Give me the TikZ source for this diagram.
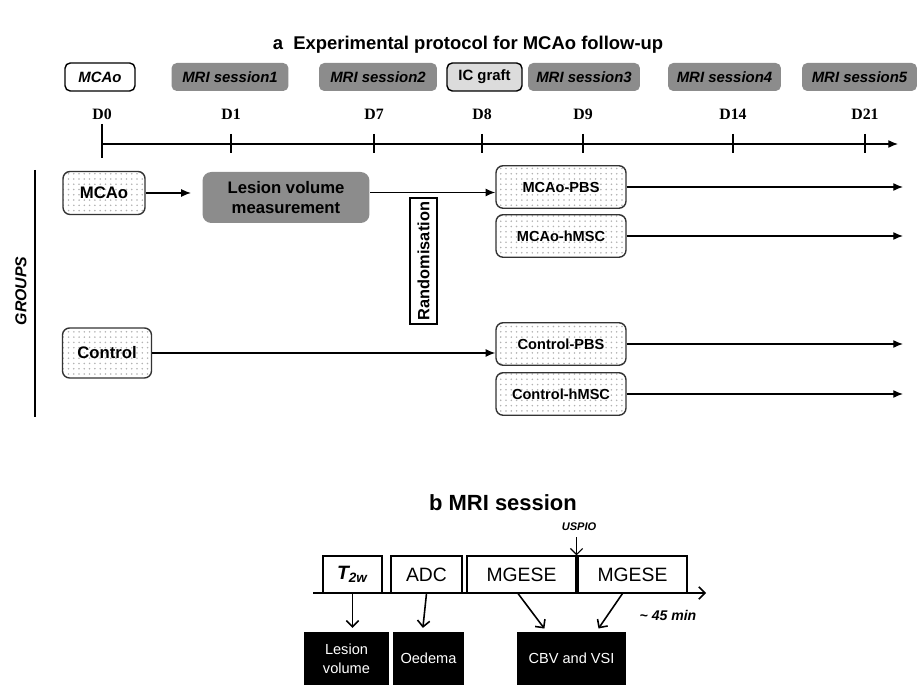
\documentclass[tikz,border=0pt]{standalone}
\usepackage{fontspec}
\setmainfont{Liberation Sans}
\newfontfamily\dayfont{Liberation Serif}
\usetikzlibrary{positioning,shapes,arrows,arrows.meta,patterns}
\definecolor{sessgray}{RGB}{140,140,140}
\definecolor{graftgray}{RGB}{220,220,220}
\begin{document}
\begin{tikzpicture}[
  x=0.02cm, y=-0.02cm,
  line width=0.7pt,
  tip/.style={-{Latex[length=5.5pt,width=4.5pt]}},
  barb/.style={-{Straight Barb[length=3.5pt,width=7pt]},line width=0.9pt},
  daybox/.style={rounded corners=3pt,inner sep=0pt,minimum height=0.56cm,
    font=\fontsize{8.5}{10}\selectfont\bfseries\itshape},
  mrinode/.style={daybox,fill=sessgray},
  grpbox/.style={draw=black!80,line width=0.8pt,rounded corners=4pt,inner sep=0pt,
    pattern=dots,pattern color=gray!60,align=center,
    font=\fontsize{9.5}{11}\selectfont\bfseries},
  armbox/.style={grpbox,minimum width=2.6cm,minimum height=0.85cm,
    font=\fontsize{8.3}{10}\selectfont\bfseries},
  seqbox/.style={draw,line width=0.6pt,inner sep=0pt,minimum height=0.74cm,
    font=\fontsize{11}{13}\selectfont},
  resbox/.style={fill=black,text=white,inner sep=0pt,minimum height=1.06cm,align=center,
    font=\fontsize{8.3}{11}\selectfont},
  font=\small
]
\useasboundingbox (0,0) rectangle (917,685);

% a: timeline
\node[font=\fontsize{10.5}{12}\selectfont\bfseries] (titlea) at (468,45) {a\ \ Experimental protocol for MCAo follow-up};
\node[daybox,draw,line width=0.8pt,fill=white,minimum width=1.4cm] (topmcao) at (100,77) {MCAo};
\node[mrinode,minimum width=2.34cm] (mri1) at (230,77) {MRI session1};
\node[mrinode,minimum width=2.36cm] (mri2) at (378,77) {MRI session2};
\node[daybox,draw,line width=0.8pt,fill=graftgray,minimum width=1.5cm,font=\fontsize{8.5}{10}\selectfont\bfseries] (graft) at (484.5,77) {IC graft};
\node[mrinode,minimum width=2.24cm] (mri3) at (584,77) {MRI session3};
\node[mrinode,minimum width=2.26cm] (mri4) at (724.5,77) {MRI session4};
\node[mrinode,minimum width=2.3cm] (mri5) at (859.5,77) {MRI session5};

\coordinate (tstart) at (102,144);
\coordinate (tend) at (898,144);
\draw[tip] (tstart) -- (tend);
\draw (102,124) -- (102,158);
\foreach \d/\x in {D0/102,D1/231,D7/374,D8/482,D9/583,D14/733,D21/865}{
  \node[font=\dayfont\fontsize{9}{10}\selectfont\bfseries] (day\d) at (\x,114) {\d};
}
\foreach \x in {231,374,482,583,733,865}{
  \draw (\x,134) -- (\x,153);
}

% a: groups
\draw[line width=1.3pt] (35,170) -- (35,417);
\node[rotate=90,font=\fontsize{9}{10}\selectfont\bfseries\itshape] (groups) at (21,291) {GROUPS};

\node[grpbox,minimum width=1.64cm,minimum height=0.86cm] (gmcao) at (104,193) {MCAo};
\node[fill=sessgray,rounded corners=5pt,minimum width=3.34cm,minimum height=1.02cm,inner sep=0pt,
  align=center,font=\fontsize{9.5}{11}\selectfont\bfseries] (lesion) at (286,197.5) {Lesion volume\\measurement};
\node[draw,line width=0.6pt,rotate=90,inner sep=0pt,minimum width=2.52cm,minimum height=0.54cm,
  font=\fontsize{9.3}{11}\selectfont\bfseries] (rand) at (423.5,261) {Randomisation};
\node[grpbox,minimum width=1.78cm,minimum height=1.0cm] (gctrl) at (107,353) {Control};

\node[armbox] (mpbs) at (561,187) {MCAo-PBS};
\node[armbox] (mhmsc) at (561,236) {MCAo-hMSC};
\node[armbox] (cpbs) at (561,344) {Control-PBS};
\node[armbox] (chmsc) at (561,394) {Control-hMSC};

\coordinate (gend) at (903,0);
\draw[tip,shorten >=0.22cm] (gmcao.east) -- (gmcao.east -| lesion.west);
\draw[tip] ([yshift=0.1cm]lesion.east) -- ([yshift=0.1cm]lesion.east -| mpbs.west);
\draw[tip] (gctrl.east) -- (gctrl.east -| cpbs.west);
\foreach \g in {mpbs,mhmsc,cpbs,chmsc}{
  \draw[tip] (\g.east) -- (\g.east -| gend);
}

% b: MRI session
\node[font=\fontsize{12.5}{14}\selectfont\bfseries] (titleb) at (503,503) {b MRI session};
\node[seqbox,minimum width=1.18cm] (t2w) at (352.5,574.5) {\bfseries\itshape T\textsubscript{2w}};
\node[seqbox,minimum width=1.42cm] (adc) at (426.5,574.5) {ADC};
\node[seqbox,minimum width=2.18cm] (mg1) at (521.5,574.5) {MGESE};
\node[seqbox,minimum width=2.18cm] (mg2) at (632.5,574.5) {MGESE};
\node[font=\fontsize{6.3}{7}\selectfont\bfseries\itshape] (uspio) at (579,527) {USPIO};
\draw[barb,line width=0.7pt] (uspio.south -| mg1.north east) -- (mg1.north east);

\coordinate (bstart) at (313,593);
\coordinate (bend) at (706,593);
\draw[barb] (bstart) -- (bend);
\node[font=\fontsize{8}{9}\selectfont\bfseries\itshape] (dur) at (668,615) {\textasciitilde\ 45 min};

\node[resbox,minimum width=1.7cm] (lesvol) at (346.5,658.5) {Lesion\\volume};
\node[resbox,minimum width=1.42cm] (oedema) at (428.5,658.5) {Oedema};
\node[resbox,minimum width=2.18cm] (cbv) at (571.5,658.5) {CBV and VSI};

\draw[barb,shorten >=2pt] (t2w.south) -- (t2w.south |- lesvol.north);
\draw[barb,shorten >=2pt] (adc.south) -- ([xshift=-0.08cm]adc.south |- oedema.north);
\draw[barb,shorten >=2pt] ([xshift=-0.07cm]mg1.south) -- ([xshift=-0.5cm]cbv.north);
\draw[barb,shorten >=2pt] ([xshift=-0.2cm]mg2.south) -- ([xshift=0.5cm]cbv.north);
\end{tikzpicture}
\end{document}
